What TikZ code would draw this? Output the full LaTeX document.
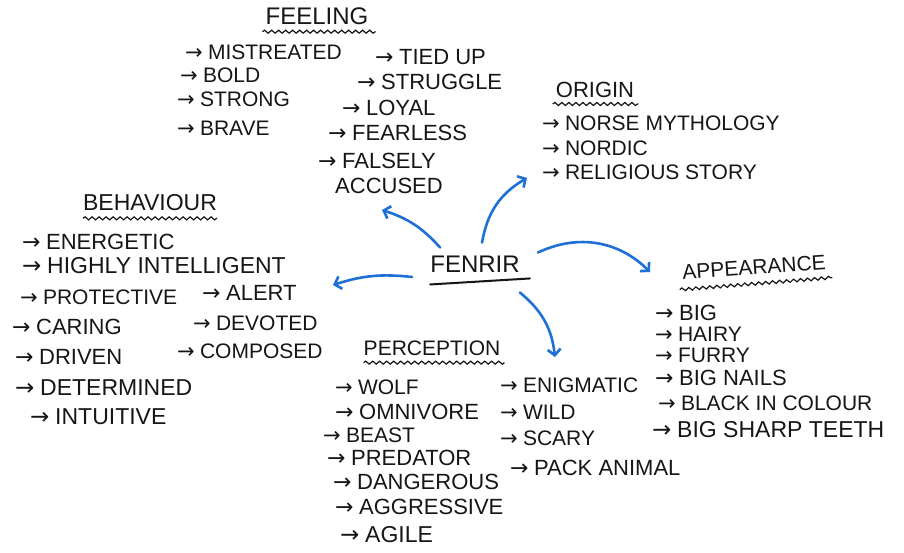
\documentclass[tikz,border=0pt]{standalone}
\usepackage{fontspec}
\setmainfont{Liberation Sans}
\newfontfamily\arrfont{DejaVu Sans}
\usetikzlibrary{decorations.pathmorphing,arrows.meta}
\newcommand\myra{{\arrfont →}\hspace{0.25em}}
\definecolor{inkblue}{RGB}{30,112,214}
\definecolor{ink}{RGB}{22,22,22}
\begin{document}
\begin{tikzpicture}[x=1pt,y=1pt,
  item/.style={anchor=west,inner sep=0pt,text=ink,font=\fontsize{#1}{#1}\selectfont},
  item/.default=21,
  head/.style={inner sep=0pt,text=ink,font=\fontsize{#1}{#1}\selectfont},
  head/.default=21,
  wavy/.style={draw=ink,line width=1.2pt,decorate,decoration={snake,amplitude=1.5pt,segment length=7pt}},
  link/.style={draw=inkblue,line width=2.6pt,line cap=round,-{Straight Barb[length=6pt,width=13pt]}},
]
\fill[white] (0,0) rectangle (904,-552);
\useasboundingbox (0,0) rectangle (904,-552);

% centre
\node[head=24] (fen) at (475,-264) {FENRIR};
\draw[ink,line width=2pt,line cap=round] ([shift={(0,-12)}]fen.south west) -- ([shift={(10,-6)}]fen.south east);

% FEELING
\node[head=24] (hf) at (317,-16) {FEELING};
\draw[wavy] ([shift={(-3,-7)}]hf.south west) -- ([shift={(7,-7)}]hf.south east);
\node[item=21] (f1) at (185,-52) {\myra MISTREATED};
\node[item=21] (f2) at (180,-75) {\myra BOLD};
\node[item=21] (f3) at (177,-99) {\myra STRONG};
\node[item=21] (f4) at (177,-128) {\myra BRAVE};
\node[item=22] (f5) at (375,-57) {\myra TIED UP};
\node[item=22] (f6) at (357,-82) {\myra STRUGGLE};
\node[item=22] (f7) at (342,-108) {\myra LOYAL};
\node[item=22] (f8) at (328,-133) {\myra FEARLESS};
\node[item=22] (f9) at (318,-161) {\myra FALSELY};
\node[item=22] (f10) at (335,-186) {ACCUSED};

% ORIGIN
\node[head=22] (ho) at (595,-90) {ORIGIN};
\draw[wavy] ([shift={(-3,-6)}]ho.south west) -- ([shift={(4,-6)}]ho.south east);
\node[item=21] (o1) at (542,-123) {\myra NORSE MYTHOLOGY};
\node[item=21] (o2) at (542,-148) {\myra NORDIC};
\node[item=21] (o3) at (542,-172) {\myra RELIGIOUS STORY};

% BEHAVIOUR
\node[head=23] (hb) at (150,-203) {BEHAVIOUR};
\draw[wavy] ([shift={(0,-7)}]hb.south west) -- ([shift={(0,-7)}]hb.south east);
\node[item=22] (b1) at (22,-242) {\myra ENERGETIC};
\node[item=23] (b2) at (22,-266) {\myra HIGHLY INTELLIGENT};
\node[item=21] (b3) at (20,-297) {\myra PROTECTIVE};
\node[item=22] (b4) at (202,-293) {\myra ALERT};
\node[item=22] (b5) at (12,-327) {\myra CARING};
\node[item=21] (b6) at (193,-323) {\myra DEVOTED};
\node[item=22] (b7) at (15,-357) {\myra DRIVEN};
\node[item=21] (b8) at (177,-351) {\myra COMPOSED};
\node[item=23] (b9) at (15,-388) {\myra DETERMINED};
\node[item=23] (b10) at (30,-417) {\myra INTUITIVE};

% PERCEPTION
\node[head=21] (hp) at (432,-348) {PERCEPTION};
\draw[wavy] ([shift={(0,-7)}]hp.south west) -- ([shift={(4,-7)}]hp.south east);
\node[item=21] (p1) at (335,-387) {\myra WOLF};
\node[item=22] (p2) at (335,-412) {\myra OMNIVORE};
\node[item=21] (p3) at (323,-435) {\myra BEAST};
\node[item=22] (p4) at (327,-458) {\myra PREDATOR};
\node[item=22] (p5) at (333,-482) {\myra DANGEROUS};
\node[item=22] (p6) at (335,-507) {\myra AGGRESSIVE};
\node[item=23] (p7) at (340,-535) {\myra AGILE};
\node[item=21] (p8) at (500,-385) {\myra ENIGMATIC};
\node[item=21] (p9) at (500,-412) {\myra WILD};
\node[item=21] (p10) at (500,-438) {\myra SCARY};
\node[item=22] (p11) at (510,-468) {\myra PACK ANIMAL};

% APPEARANCE
\node[head=21,rotate=4] (ha) at (754,-267) {APPEARANCE};
\draw[wavy] ([shift={(-3,-10)}]ha.south west) -- ([shift={(6,-8)}]ha.south east);
\node[item=22] (a1) at (655,-313) {\myra BIG};
\node[item=21] (a2) at (655,-334) {\myra HAIRY};
\node[item=21] (a3) at (655,-355) {\myra FURRY};
\node[item=22] (a4) at (655,-378) {\myra BIG NAILS};
\node[item=21] (a5) at (658,-403) {\myra BLACK IN COLOUR};
\node[item=23] (a6) at (652,-430) {\myra BIG SHARP TEETH};

% blue connectors
\coordinate (eFeel) at (382,-210);
\coordinate (eOrig) at (527,-178);
\coordinate (eBeh) at (333,-285);
\coordinate (eApp) at (650,-272);
\coordinate (ePer) at (555,-357);
\draw[link] ([shift={(10,8)}]fen.north west) to[bend right=15] (eFeel);
\draw[link] ([shift={(7,13)}]fen.north) to[bend left=25] (eOrig);
\draw[link] ([shift={(-18,-13)}]fen.west) to[bend right=12] (eBeh);
\draw[link] ([shift={(18,3)}]fen.north east) to[bend left=35] (eApp);
\draw[link] ([shift={(0,-20)}]fen.south east) to[bend left=22] (ePer);
\end{tikzpicture}
\end{document}
